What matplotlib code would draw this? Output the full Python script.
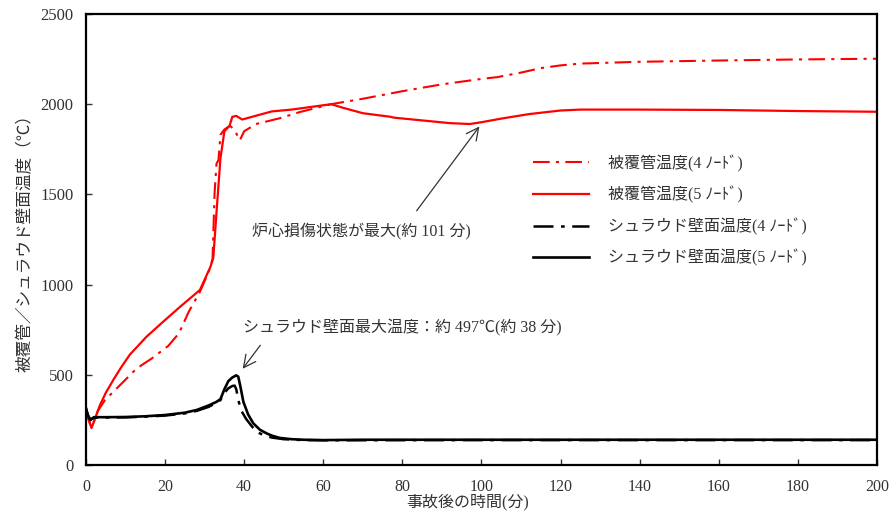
import matplotlib
matplotlib.use("Agg")
import matplotlib.pyplot as plt

plt.rcParams['font.family'] = ['Liberation Serif', 'Noto Sans CJK JP']

# cladding temperature, 4 node case (dash-dot red)
clad4_t = [0, 0.5, 1.2, 2, 3, 4.8, 9.4, 12.8, 16.6, 20.8, 23.5, 26, 28.8, 31, 32,
           32.5, 33, 33.5, 34, 35, 36.4, 37.5, 38.9, 40, 43, 49, 54, 62, 70, 80,
           90, 100, 104, 110, 115, 120, 125, 140, 160, 180, 200]
clad4_T = [315, 270, 215, 240, 300, 360, 460, 535, 590, 660, 730, 850, 960, 1070, 1140,
           1500, 1670, 1690, 1830, 1860, 1880, 1860, 1800, 1850, 1890, 1922, 1956, 2000, 2030, 2072,
           2110, 2140, 2150, 2175, 2200, 2215, 2225, 2235, 2242, 2248, 2252]

# cladding temperature, 5 node case (solid red)
clad5_t = [0, 0.5, 1.4, 2.5, 3.5, 5, 7, 9, 11.1, 15.3, 19.5, 23.8, 28.8, 31.5, 32.2, 33,
           34, 35, 36.3, 37, 38, 39.5, 42, 47, 52, 57, 62, 65, 70, 77, 78,
           85, 92, 97, 100, 105, 112, 120, 125, 140, 160, 180, 200]
clad5_T = [300, 260, 205, 270, 330, 400, 475, 545, 612, 711, 794, 877, 970, 1100, 1150, 1400,
           1700, 1850, 1880, 1930, 1935, 1915, 1930, 1960, 1970, 1985, 2000, 1980, 1950, 1930, 1925,
           1910, 1895, 1890, 1900, 1920, 1945, 1965, 1970, 1970, 1968, 1962, 1958]

# shroud wall temperature, 4 node case (dash-dot black)
shr4_t = [0, 0.5, 1.1, 2, 5, 10, 15, 20, 25, 28, 31, 33, 34, 35, 36, 37, 37.6,
          38, 38.5, 39.3, 40.5, 43, 45, 47, 50, 55, 60, 100, 150, 200]
shr4_T = [310, 275, 250, 262, 263, 264, 268, 274, 286, 300, 322, 345, 360, 400, 425, 438, 440,
          420, 360, 300, 255, 185, 165, 152, 143, 138, 137, 138, 138, 138]

# shroud wall temperature, 5 node case (solid black)
shr5_t = [0, 0.5, 1.1, 2, 5, 10, 15, 20, 25, 28, 31, 33, 34, 35, 36, 37, 38,
          38.5, 39, 39.8, 41, 42.3, 44, 45.7, 47, 49, 52, 55, 60, 70, 100, 150, 200]
shr5_T = [315, 275, 250, 265, 265, 266, 270, 277, 290, 305, 330, 350, 365, 420, 465, 485, 497,
          490, 440, 350, 280, 231, 195, 175, 163, 150, 143, 140, 138, 140, 140, 140, 140]

labels = ['被覆管温度(4 ﾉｰﾄﾞ)', '被覆管温度(5 ﾉｰﾄﾞ)',
          'シュラウド壁面温度(4 ﾉｰﾄﾞ)', 'シュラウド壁面温度(5 ﾉｰﾄﾞ)']

dashdot = (0, (8, 3, 1.5, 3))
txt_color = '#333333'

fig = plt.figure(figsize=(8.92, 5.12), dpi=100)
ax = fig.add_axes([0.0964, 0.0918, 0.8867, 0.8809])

ax.plot(clad4_t, clad4_T, color='#ff0000', lw=1.5, ls=dashdot, label=labels[0])
ax.plot(clad5_t, clad5_T, color='#ff0000', lw=1.6, label=labels[1])
ax.plot(shr4_t, shr4_T, color='black', lw=1.8, ls=dashdot, label=labels[2])
ax.plot(shr5_t, shr5_T, color='black', lw=1.9, label=labels[3])

ax.set_xlim(0, 200)
ax.set_ylim(0, 2500)
ax.set_xticks(range(0, 201, 20))
ax.set_yticks(range(0, 2501, 500))
ax.tick_params(direction='in', length=4, width=1, colors=txt_color)
ax.tick_params(axis='x', labelsize=11.5, pad=10)
ax.tick_params(axis='y', labelsize=12, pad=9)
for s in ax.spines.values():
    s.set_linewidth(1.6)

ax.set_xlabel('事故後の時間(分)', fontsize=11.5, labelpad=-1, x=0.483, color=txt_color)
ax.set_ylabel('被覆管／シュラウド壁面温度（℃）', fontsize=12, labelpad=5, color=txt_color)

# annotations
ax.text(42, 1291, '炉心損傷状態が最大(約 101 分)', fontsize=11.5, va='center', ha='left', color=txt_color)
ax.annotate('', xy=(99.9, 1889), xytext=(83.2, 1397),
            arrowprops=dict(arrowstyle='->', color=txt_color, lw=0.9, mutation_scale=22))
ax.text(39.7, 759, 'シュラウド壁面最大温度：約 497℃(約 38 分)', fontsize=11.5, va='center', ha='left',
        color=txt_color)
ax.annotate('', xy=(39.2, 521), xytext=(44.5, 676),
            arrowprops=dict(arrowstyle='->', color=txt_color, lw=0.9, mutation_scale=22))

leg = ax.legend(loc='upper left', bbox_to_anchor=(0.565, 0.688), frameon=False, fontsize=11.5,
                handlelength=3.5, handletextpad=1.2, labelspacing=0.9, borderpad=0, borderaxespad=0)
for t in leg.get_texts():
    t.set_color(txt_color)

fig.savefig('out.png', dpi=100)
